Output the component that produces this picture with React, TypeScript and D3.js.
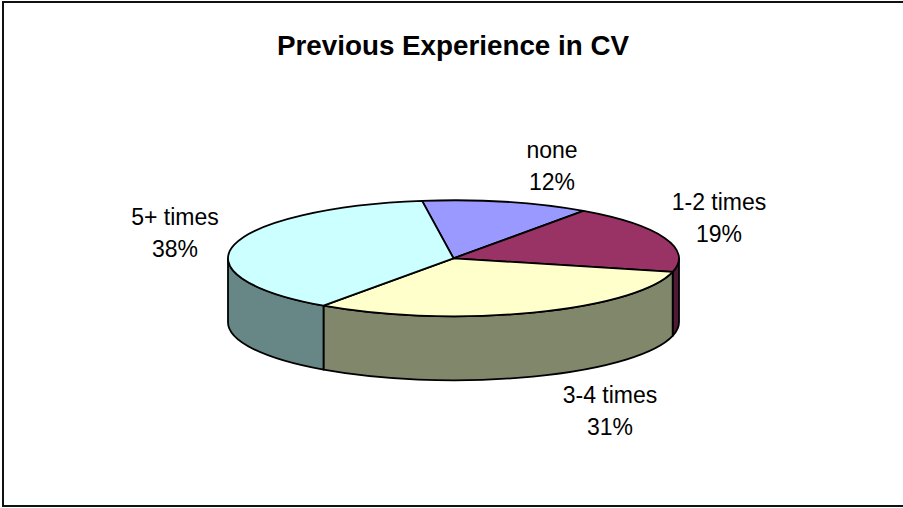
import React, { useEffect, useRef } from "react";
import * as d3 from "d3";

// ---- data ----
const categories = ["none", "1-2 times", "3-4 times", "5+ times"];
const values = [12, 19, 31, 38];
const percentLabels = ["12%", "19%", "31%", "38%"];
const colors = ["#9999FF", "#993366", "#FFFFCC", "#CCFFFF"];
const chartTitle = "Previous Experience in CV";

// ---- layout ----
const W = 903;
const H = 508;
const cx = 453.5;
const cy = 258.3;
const rx = 225.5;
const ry = 58;
const depth = 64;
const firstSliceAngle = (-8 * Math.PI) / 180;
// label block centers (x, first-line baseline)
const labelLayout = [
  { x: 552, y: 158 },
  { x: 719, y: 210 },
  { x: 610, y: 403 },
  { x: 175, y: 225 },
];

export default function App() {
  const ref = useRef<SVGSVGElement>(null);

  useEffect(() => {
    const svg = d3.select(ref.current);
    svg.selectAll("*").remove();

    svg.append("rect").attr("width", W).attr("height", H).attr("fill", "#fff");
    svg
      .append("rect")
      .attr("x", 3)
      .attr("y", 2)
      .attr("width", W + 10)
      .attr("height", 504)
      .attr("fill", "none")
      .attr("stroke", "#111")
      .attr("stroke-width", 2);

    svg
      .append("text")
      .attr("x", 453)
      .attr("y", 55)
      .attr("text-anchor", "middle")
      .attr("font-family", "Liberation Sans, Arial, sans-serif")
      .attr("font-weight", "bold")
      .attr("font-size", 27)
      .attr("textLength", 352)
      .attr("lengthAdjust", "spacingAndGlyphs")
      .text(chartTitle);

    const pie = d3
      .pie<number>()
      .sort(null)
      .value((d) => d)
      .startAngle(firstSliceAngle)
      .endAngle(firstSliceAngle + 2 * Math.PI);
    const arcs = pie(values);

    const px = (a: number) => cx + rx * Math.sin(a);
    const py = (a: number, dz = 0) => cy - ry * Math.cos(a) + dz;

    const sideColor = (c: string) => {
      const r = d3.rgb(c);
      return d3.rgb(r.r * 0.5, r.g * 0.53, r.b * 0.52).formatHex();
    };

    const sides = svg.append("g");
    arcs.forEach((arc, i) => {
      for (const shift of [0, 2 * Math.PI, -2 * Math.PI]) {
        const s = Math.max(arc.startAngle, Math.PI / 2 + shift);
        const e = Math.min(arc.endAngle, (3 * Math.PI) / 2 + shift);
        if (e > s) {
          const d =
            `M${px(s)},${py(s)}` +
            `A${rx},${ry} 0 0 1 ${px(e)},${py(e)}` +
            `L${px(e)},${py(e, depth)}` +
            `A${rx},${ry} 0 0 0 ${px(s)},${py(s, depth)}Z`;
          sides
            .append("path")
            .attr("d", d)
            .attr("fill", sideColor(colors[i]))
            .attr("stroke", "#000")
            .attr("stroke-width", 1.8)
            .attr("stroke-linejoin", "round");
        }
      }
    });

    const tops = svg.append("g");
    arcs.forEach((arc, i) => {
      const a0 = arc.startAngle;
      const a1 = arc.endAngle;
      const large = a1 - a0 > Math.PI ? 1 : 0;
      const d =
        `M${cx},${cy}L${px(a0)},${py(a0)}` +
        `A${rx},${ry} 0 ${large} 1 ${px(a1)},${py(a1)}Z`;
      tops
        .append("path")
        .attr("d", d)
        .attr("fill", colors[i])
        .attr("stroke", "#000")
        .attr("stroke-width", 1.8)
        .attr("stroke-linejoin", "round");
    });

    const labels = svg.append("g");
    categories.forEach((c, i) => {
      const t = labels
        .append("text")
        .attr("text-anchor", "middle")
        .attr("font-family", "Liberation Sans, Arial, sans-serif")
        .attr("font-size", 23)
        .attr("fill", "#000");
      t.append("tspan").attr("x", labelLayout[i].x).attr("y", labelLayout[i].y).text(c);
      t.append("tspan")
        .attr("x", labelLayout[i].x)
        .attr("y", labelLayout[i].y + 32)
        .text(percentLabels[i]);
    });
  }, []);

  return (
    <div style={{ position: "absolute", left: 0, top: 0 }}>
      <svg ref={ref} width={W} height={H} style={{ display: "block" }} />
    </div>
  );
}
